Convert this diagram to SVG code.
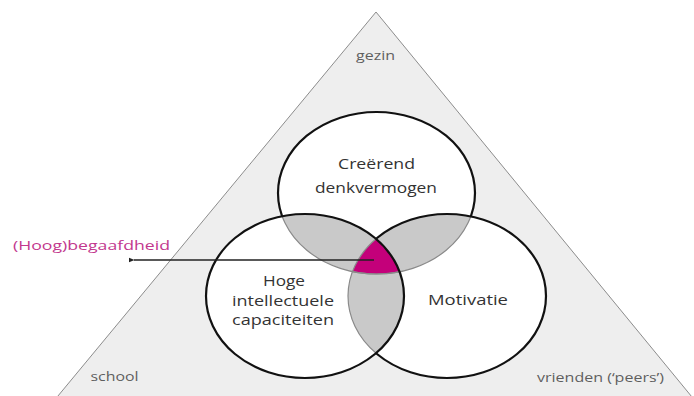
<svg xmlns="http://www.w3.org/2000/svg" width="694" height="396" viewBox="0 0 694 396">
<style>
.lbl{font-family:"Open Sans","Liberation Sans",sans-serif;font-size:15px;fill:#333333;text-anchor:middle}
.sm{font-size:14px}
.ctx{font-family:"Open Sans","Liberation Sans",sans-serif;font-size:12px;fill:#5e5e5e;text-anchor:middle}
.blk{fill:none;stroke:#111111;stroke-width:2.2}
.gry{fill:none;stroke:#8a8a8a;stroke-width:1.2}
.lens{fill:#c9c9c9}
</style>
<defs>
<clipPath id="cT"><ellipse cx="376.5" cy="193" rx="98.5" ry="81"/></clipPath>
<clipPath id="cL"><ellipse cx="305" cy="296" rx="99" ry="82"/></clipPath>
<clipPath id="cR"><ellipse cx="447" cy="296" rx="99" ry="82"/></clipPath>
<mask id="outL" maskUnits="userSpaceOnUse" x="0" y="0" width="694" height="396">
<rect x="0" y="0" width="694" height="396" fill="#fff"/>
<ellipse cx="305" cy="296" rx="99" ry="82" fill="#000"/>
</mask>
<mask id="outLR" maskUnits="userSpaceOnUse" x="0" y="0" width="694" height="396">
<rect x="0" y="0" width="694" height="396" fill="#fff"/>
<ellipse cx="305" cy="296" rx="99" ry="82" fill="#000"/>
<ellipse cx="447" cy="296" rx="99" ry="82" fill="#000"/>
</mask>
<marker id="arr" viewBox="0 0 10 10" refX="1" refY="5" markerWidth="6" markerHeight="6" orient="auto-start-reverse" markerUnits="userSpaceOnUse">
<path d="M10,1 L0,5 L10,9 Z" fill="#222"/>
</marker>
</defs>
<rect x="0" y="0" width="694" height="396" fill="#ffffff"/>
<g id="context">
<polygon points="376,12 48,408 701,408" fill="#eeeeee" stroke="#8c8c8c" stroke-width="1"/>
<text class="ctx" x="375.5" y="60" textLength="39" lengthAdjust="spacingAndGlyphs">gezin</text>
<text class="ctx" x="114.5" y="381" textLength="48" lengthAdjust="spacingAndGlyphs">school</text>
<text class="ctx" x="600.5" y="381.5" textLength="127" lengthAdjust="spacingAndGlyphs">vrienden (‘peers’)</text>
</g>
<g id="fills">
<ellipse cx="376.5" cy="193" rx="98.5" ry="81" fill="#ffffff"/>
<ellipse cx="305" cy="296" rx="99" ry="82" fill="#ffffff"/>
<ellipse cx="447" cy="296" rx="99" ry="82" fill="#ffffff"/>
<ellipse class="lens" cx="376.5" cy="193" rx="98.5" ry="81" clip-path="url(#cL)"/>
<ellipse class="lens" cx="376.5" cy="193" rx="98.5" ry="81" clip-path="url(#cR)"/>
<ellipse class="lens" cx="447" cy="296" rx="99" ry="82" clip-path="url(#cL)"/>
</g>
<g id="begaafdheid-core" clip-path="url(#cL)">
<ellipse cx="376.5" cy="193" rx="98.5" ry="81" fill="#c4007a" clip-path="url(#cR)"/>
</g>
<g id="hidden-arcs">
<ellipse class="gry" cx="376.5" cy="193" rx="98.5" ry="81" clip-path="url(#cL)"/>
<ellipse class="gry" cx="376.5" cy="193" rx="98.5" ry="81" clip-path="url(#cR)"/>
<ellipse class="gry" cx="447" cy="296" rx="99" ry="82" clip-path="url(#cL)"/>
</g>
<g id="creerend">
<ellipse class="blk" cx="376.5" cy="193" rx="98.5" ry="81" mask="url(#outLR)"/>
<text class="lbl" x="376.5" y="169" textLength="77" lengthAdjust="spacingAndGlyphs">Creërend</text>
<text class="lbl" x="376" y="193" textLength="122" lengthAdjust="spacingAndGlyphs">denkvermogen</text>
</g>
<g id="motivatie">
<ellipse class="blk" cx="447" cy="296" rx="99" ry="82" mask="url(#outL)"/>
<text class="lbl" x="468" y="305" textLength="80" lengthAdjust="spacingAndGlyphs">Motivatie</text>
</g>
<g id="capaciteiten">
<ellipse class="blk" cx="305" cy="296" rx="99" ry="82"/>
<text class="lbl sm" x="284" y="286" textLength="42" lengthAdjust="spacingAndGlyphs">Hoge</text>
<text class="lbl sm" x="283" y="305.5" textLength="102" lengthAdjust="spacingAndGlyphs">intellectuele</text>
<text class="lbl sm" x="283" y="325" textLength="102" lengthAdjust="spacingAndGlyphs">capaciteiten</text>
</g>
<g id="connectors">
<line x1="374" y1="260" x2="134" y2="260" stroke="#222" stroke-width="1.5" marker-end="url(#arr)"/>
</g>
<g id="begaafdheid-label">
<text x="13" y="250" font-family="'Open Sans','Liberation Sans',sans-serif" font-size="13" fill="#c2378e" textLength="157" lengthAdjust="spacingAndGlyphs">(Hoog)begaafdheid</text>
</g>
</svg>
